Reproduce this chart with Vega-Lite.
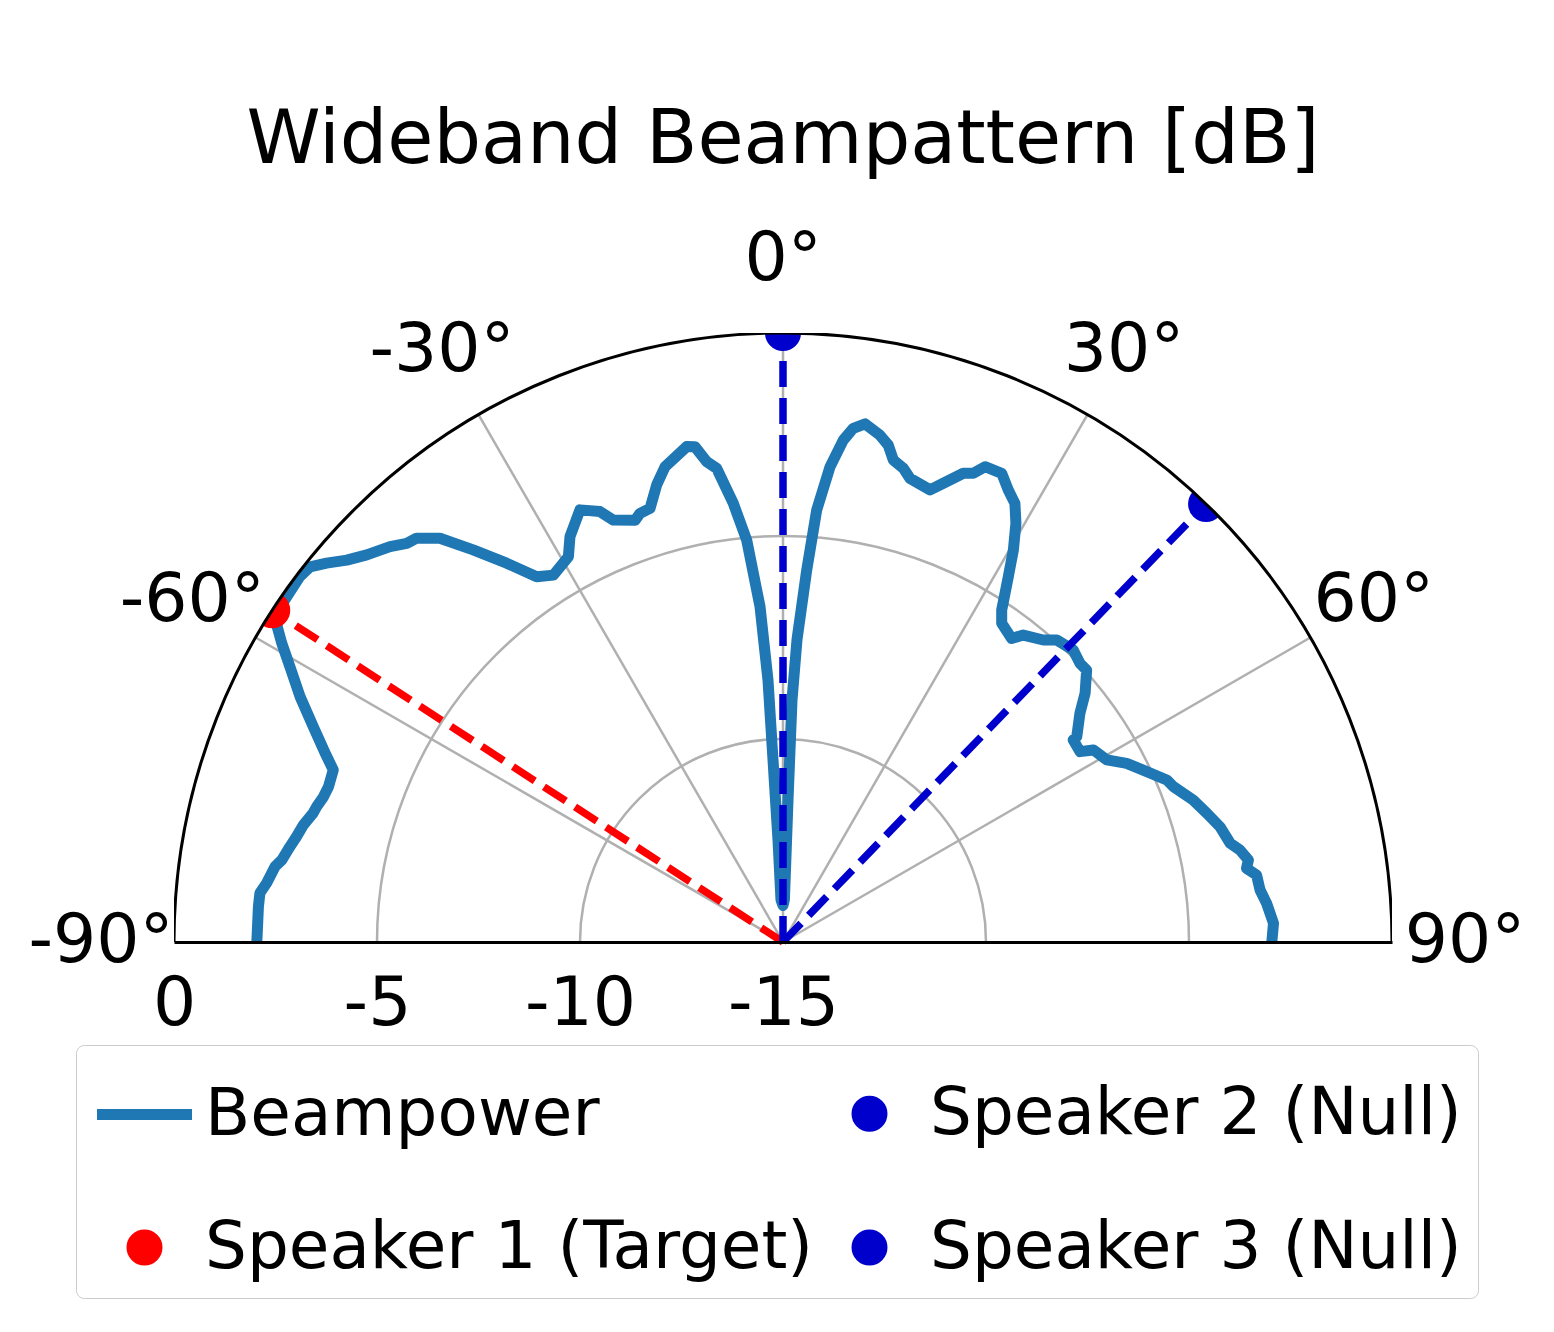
{
  "$schema": "https://vega.github.io/schema/vega-lite/v6.json",
  "width": 1218,
  "height": 609,
  "autosize": "none",
  "padding": {"left": 174, "top": 333, "right": 162, "bottom": 390},
  "background": "white",
  "title": {"text": "Wideband Beampattern [dB]", "font": "DejaVu Sans", "fontSize": 75, "fontWeight": "normal", "color": "black", "anchor": "middle", "frame": "group", "baseline": "alphabetic", "offset": -12},
  "config": {"view": {"stroke": null}, "font": "DejaVu Sans"},
  "datasets": {
    "beam": [
      {"angle": -90, "db": -2.04}, {"angle": -86.15, "db": -2.05}, {"angle": -84.65, "db": -2.06}, {"angle": -83.48, "db": -2.2},
      {"angle": -81.57, "db": -2.35}, {"angle": -80.71, "db": -2.49}, {"angle": -79.06, "db": -2.63}, {"angle": -77.78, "db": -2.74},
      {"angle": -76.29, "db": -2.84}, {"angle": -74.64, "db": -3.0}, {"angle": -73.82, "db": -3.04}, {"angle": -72.46, "db": -3.13},
      {"angle": -71.14, "db": -3.17}, {"angle": -69.07, "db": -3.14}, {"angle": -67.57, "db": -2.8}, {"angle": -65.37, "db": -2.27},
      {"angle": -63.07, "db": -1.66}, {"angle": -60.82, "db": -1.09}, {"angle": -59.21, "db": -0.63}, {"angle": -58.06, "db": -0.32},
      {"angle": -56.66, "db": -0.12}, {"angle": -55.17, "db": -0.11}, {"angle": -52.9, "db": -0.08}, {"angle": -51.57, "db": -0.13},
      {"angle": -50.31, "db": -0.39}, {"angle": -48.8, "db": -0.72}, {"angle": -47.08, "db": -1.0}, {"angle": -44.83, "db": -1.27},
      {"angle": -43.35, "db": -1.5}, {"angle": -42.22, "db": -1.57}, {"angle": -40.35, "db": -1.95}, {"angle": -38.31, "db": -2.69},
      {"angle": -36.11, "db": -3.45}, {"angle": -34.0, "db": -4.15}, {"angle": -32.04, "db": -4.34}, {"angle": -29.13, "db": -4.14},
      {"angle": -27.72, "db": -3.72}, {"angle": -25.17, "db": -3.24}, {"angle": -23.04, "db": -3.48}, {"angle": -21.91, "db": -3.8},
      {"angle": -19.32, "db": -3.99}, {"angle": -18.44, "db": -3.87}, {"angle": -17.05, "db": -3.83}, {"angle": -15.45, "db": -3.32},
      {"angle": -13.94, "db": -2.94}, {"angle": -11.0, "db": -2.57}, {"angle": -10.08, "db": -2.61}, {"angle": -9.03, "db": -3.02},
      {"angle": -7.97, "db": -3.22}, {"angle": -6.46, "db": -4.13}, {"angle": -5.16, "db": -5.06}, {"angle": -3.92, "db": -6.72},
      {"angle": -3.28, "db": -8.54}, {"angle": -3.14, "db": -10.51}, {"angle": -2.81, "db": -12.49}, {"angle": -2.73, "db": -13.96},
      {"angle": 0, "db": -14.1},
      {"angle": 1.9, "db": -13.96}, {"angle": 2.02, "db": -11.5}, {"angle": 2.13, "db": -9.04}, {"angle": 2.65, "db": -7.55},
      {"angle": 3.65, "db": -5.82}, {"angle": 4.46, "db": -4.33}, {"angle": 5.65, "db": -3.24}, {"angle": 6.85, "db": -2.55},
      {"angle": 7.79, "db": -2.23}, {"angle": 9.0, "db": -2.08}, {"angle": 10.83, "db": -2.29}, {"angle": 11.96, "db": -2.49},
      {"angle": 12.89, "db": -2.82}, {"angle": 14.25, "db": -2.96}, {"angle": 15.32, "db": -3.16}, {"angle": 18.02, "db": -3.29},
      {"angle": 19.26, "db": -3.03}, {"angle": 21.04, "db": -2.63}, {"angle": 22.1, "db": -2.54}, {"angle": 23.03, "db": -2.28},
      {"angle": 25.01, "db": -2.26}, {"angle": 26.49, "db": -2.56}, {"angle": 27.87, "db": -2.78}, {"angle": 29.09, "db": -3.2},
      {"angle": 30.44, "db": -3.8}, {"angle": 31.67, "db": -4.43}, {"angle": 33.38, "db": -5.21}, {"angle": 34.46, "db": -5.48},
      {"angle": 36.98, "db": -5.64}, {"angle": 38.05, "db": -5.4}, {"angle": 40.76, "db": -5.18}, {"angle": 42.19, "db": -4.96},
      {"angle": 44.83, "db": -4.86}, {"angle": 46.82, "db": -4.97}, {"angle": 48.15, "db": -4.96}, {"angle": 50.53, "db": -5.36},
      {"angle": 52.4, "db": -5.77}, {"angle": 55.04, "db": -6.17}, {"angle": 55.17, "db": -6.29}, {"angle": 57.35, "db": -6.31},
      {"angle": 58.25, "db": -6.01}, {"angle": 60.65, "db": -5.85}, {"angle": 62.53, "db": -5.46}, {"angle": 64.48, "db": -5.17},
      {"angle": 67.11, "db": -4.74}, {"angle": 68.3, "db": -4.65}, {"angle": 70.91, "db": -4.31}, {"angle": 73.1, "db": -4.09},
      {"angle": 75.22, "db": -3.87}, {"angle": 77.55, "db": -3.72}, {"angle": 78.62, "db": -3.52}, {"angle": 80.01, "db": -3.36},
      {"angle": 80.97, "db": -3.44}, {"angle": 81.95, "db": -3.22}, {"angle": 83.78, "db": -3.18}, {"angle": 85.43, "db": -3.05},
      {"angle": 87.82, "db": -2.91}, {"angle": 90, "db": -2.96}
    ],
    "speakers": [
      {"series": "Speaker 1 (Target)", "angle": -57, "db": 0},
      {"series": "Speaker 2 (Null)", "angle": 0, "db": 0},
      {"series": "Speaker 3 (Null)", "angle": 44, "db": 0}
    ],
    "circles": [{"r": 5, "ring": "grid"}, {"r": 10, "ring": "grid"}, {"r": 15.49, "ring": "mask"}, {"r": 15, "ring": "edge"}],
    "spokes": [{"angle": -60}, {"angle": -30}, {"angle": 0}, {"angle": 30}, {"angle": 60}],
    "labels": [
      {"angle": -90, "label": "-90°"}, {"angle": -60, "label": "-60°"}, {"angle": -30, "label": "-30°"},
      {"angle": 0, "label": "0°"}, {"angle": 30, "label": "30°"}, {"angle": 60, "label": "60°"}, {"angle": 90, "label": "90°"}
    ]
  },
  "layer": [
    {
      "data": {"name": "circles"},
      "transform": [
        {"filter": "datum.ring === 'grid'"},
        {"calculate": "0", "as": "cx"},
        {"calculate": "0", "as": "cy"}
      ],
      "mark": {"type": "point", "shape": "circle", "filled": false, "stroke": "#b0b0b0", "strokeWidth": 2.5, "opacity": 1, "clip": true},
      "encoding": {
        "x": {"field": "cx", "type": "quantitative", "scale": {"domain": [-15, 15], "nice": false, "zero": false}, "axis": {"values": [-15, -10, -5, 0], "labelExpr": "toString(-datum.value-15)", "title": null, "ticks": false, "grid": false, "domainColor": "black", "domainWidth": 3, "labelFontSize": 68, "labelFont": "DejaVu Sans", "labelColor": "black", "labelPadding": 28, "zindex": 1, "labelFlush": false, "labelOverlap": false, "labelBaseline": "top"}},
        "y": {"field": "cy", "type": "quantitative", "scale": {"domain": [0, 15], "nice": false, "zero": false}, "axis": null},
        "size": {"field": "r", "type": "quantitative", "scale": {"type": "pow", "exponent": 2, "domain": [0, 15], "range": [0, 1483524], "zero": true}, "legend": null}
      }
    },
    {
      "data": {"name": "spokes"},
      "transform": [
        {"calculate": "0", "as": "cx"},
        {"calculate": "0", "as": "cy"},
        {"calculate": "15*sin(datum.angle*PI/180)", "as": "xe"},
        {"calculate": "15*cos(datum.angle*PI/180)", "as": "ye"}
      ],
      "mark": {"type": "rule", "color": "#b0b0b0", "strokeWidth": 2.5},
      "encoding": {
        "x": {"field": "cx", "type": "quantitative"},
        "y": {"field": "cy", "type": "quantitative", "axis": null},
        "x2": {"field": "xe"},
        "y2": {"field": "ye"}
      }
    },
    {
      "data": {"name": "beam"},
      "transform": [
        {"calculate": "(datum.db+15)*sin(datum.angle*PI/180)", "as": "x"},
        {"calculate": "(datum.db+15)*cos(datum.angle*PI/180)", "as": "y"},
        {"calculate": "'Beampower'", "as": "series"}
      ],
      "mark": {"type": "line", "strokeWidth": 11, "strokeJoin": "round", "strokeCap": "square", "clip": true},
      "encoding": {
        "x": {"field": "x", "type": "quantitative"},
        "y": {"field": "y", "type": "quantitative", "axis": null},
        "color": {"field": "series", "type": "nominal", "scale": {"domain": ["Beampower", "Speaker 1 (Target)", "Speaker 2 (Null)", "Speaker 3 (Null)"], "range": ["#1f77b4", "#ff0000", "#0000cd", "#0000cd"]}},
        "order": {"field": "angle", "type": "quantitative"}
      }
    },
    {
      "data": {"name": "speakers"},
      "transform": [
        {"calculate": "0", "as": "cx"},
        {"calculate": "0", "as": "cy"},
        {"calculate": "(datum.db+15)*sin(datum.angle*PI/180)", "as": "xe"},
        {"calculate": "(datum.db+15)*cos(datum.angle*PI/180)", "as": "ye"}
      ],
      "mark": {"type": "rule", "strokeWidth": 7.5, "strokeDash": [26, 11]},
      "encoding": {
        "x": {"field": "cx", "type": "quantitative"},
        "y": {"field": "cy", "type": "quantitative", "axis": null},
        "x2": {"field": "xe"},
        "y2": {"field": "ye"},
        "color": {"field": "series", "type": "nominal", "scale": {"domain": ["Beampower", "Speaker 1 (Target)", "Speaker 2 (Null)", "Speaker 3 (Null)"], "range": ["#1f77b4", "#ff0000", "#0000cd", "#0000cd"]}}
      }
    },
    {
      "data": {"name": "speakers"},
      "transform": [
        {"calculate": "(datum.db+15)*sin(datum.angle*PI/180)", "as": "x"},
        {"calculate": "(datum.db+15)*cos(datum.angle*PI/180)", "as": "y"}
      ],
      "mark": {"type": "point", "filled": true, "size": 9025, "strokeWidth": 11, "opacity": 1, "clip": true},
      "encoding": {
        "x": {"field": "x", "type": "quantitative"},
        "y": {"field": "y", "type": "quantitative", "axis": null},
        "color": {"field": "series", "type": "nominal", "scale": {"domain": ["Beampower", "Speaker 1 (Target)", "Speaker 2 (Null)", "Speaker 3 (Null)"], "range": ["#1f77b4", "#ff0000", "#0000cd", "#0000cd"]}, "legend": {
          "orient": "none", "legendX": -98, "legendY": 712, "columns": 2, "title": null,
          "labelFont": "DejaVu Sans", "labelFontSize": 66, "labelColor": "black", "labelLimit": 2000, "labelOffset": 7.5,
          "symbolSize": 9025, "symbolStrokeWidth": 11, "symbolOpacity": 1,
          "padding": 15.5, "rowPadding": 46, "columnPadding": 3, "cornerRadius": 8,
          "strokeColor": "#cccccc", "fillColor": "white"
        }},
        "stroke": {"field": "series", "type": "nominal", "scale": {"domain": ["Beampower", "Speaker 1 (Target)", "Speaker 2 (Null)", "Speaker 3 (Null)"], "range": ["#1f77b4", "#ff0000", "#0000cd", "#0000cd"]}},
        "shape": {"field": "series", "type": "nominal", "scale": {"domain": ["Beampower", "Speaker 1 (Target)", "Speaker 2 (Null)", "Speaker 3 (Null)"], "range": ["stroke", "M0.263,0A0.263,0.263,0,1,1,-0.263,0A0.263,0.263,0,1,1,0.263,0Z", "M0.263,0A0.263,0.263,0,1,1,-0.263,0A0.263,0.263,0,1,1,0.263,0Z", "M0.263,0A0.263,0.263,0,1,1,-0.263,0A0.263,0.263,0,1,1,0.263,0Z"]}}
      }
    },
    {
      "data": {"name": "circles"},
      "transform": [
        {"filter": "datum.ring === 'mask'"},
        {"calculate": "0", "as": "cx"},
        {"calculate": "0", "as": "cy"}
      ],
      "mark": {"type": "point", "shape": "circle", "filled": false, "stroke": "white", "strokeWidth": 40, "opacity": 1, "clip": true},
      "encoding": {
        "x": {"field": "cx", "type": "quantitative"},
        "y": {"field": "cy", "type": "quantitative", "axis": null},
        "size": {"field": "r", "type": "quantitative", "scale": {"type": "pow", "exponent": 2, "domain": [0, 15], "range": [0, 1483524], "zero": true}, "legend": null}
      }
    },
    {
      "data": {"name": "circles"},
      "transform": [
        {"filter": "datum.ring === 'edge'"},
        {"calculate": "0", "as": "cx"},
        {"calculate": "0", "as": "cy"}
      ],
      "mark": {"type": "point", "shape": "circle", "filled": false, "stroke": "black", "strokeWidth": 3, "opacity": 1, "clip": true},
      "encoding": {
        "x": {"field": "cx", "type": "quantitative"},
        "y": {"field": "cy", "type": "quantitative", "axis": null},
        "size": {"field": "r", "type": "quantitative", "scale": {"type": "pow", "exponent": 2, "domain": [0, 15], "range": [0, 1483524], "zero": true}, "legend": null}
      }
    },
    {
      "data": {"name": "labels"},
      "transform": [
        {"calculate": "16.8*sin(datum.angle*PI/180)", "as": "x"},
        {"calculate": "16.8*cos(datum.angle*PI/180)", "as": "y"}
      ],
      "mark": {"type": "text", "font": "DejaVu Sans", "fontSize": 68, "color": "black", "align": "center", "baseline": "middle"},
      "encoding": {
        "x": {"field": "x", "type": "quantitative"},
        "y": {"field": "y", "type": "quantitative", "axis": null},
        "text": {"field": "label"}
      }
    }
  ]
}
